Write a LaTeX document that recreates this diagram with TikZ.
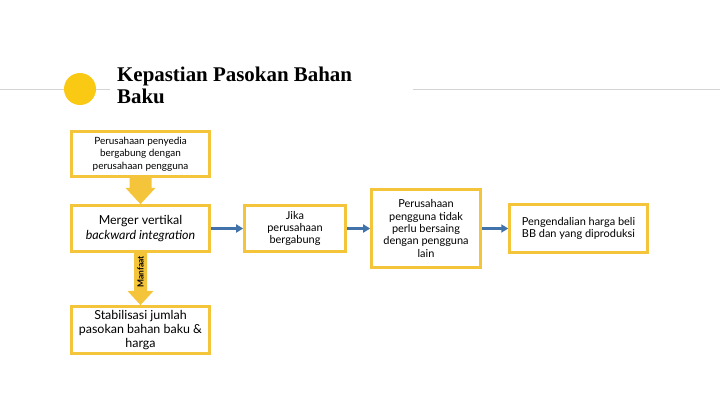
\documentclass[tikz,border=0pt]{standalone}
\usepackage{fontspec}
\setmainfont{Lato}
\newfontfamily\titlefont{Liberation Serif}
\usetikzlibrary{arrows.meta,calc}
\definecolor{boxyellow}{RGB}{244,196,58}
\definecolor{dotyellow}{RGB}{250,201,20}
\definecolor{linkblue}{RGB}{66,114,170}
\definecolor{rulegrey}{RGB}{212,212,212}
\begin{document}
\begin{tikzpicture}[x=1bp,y=-1bp,
  box/.style={draw=boxyellow,line width=3bp,fill=white,align=center,inner sep=2bp,
    font=\fontsize{11}{12.5}\selectfont},
  link/.style={draw=linkblue,line width=2.2bp,-{Triangle[length=7bp,width=8bp]}}]
\useasboundingbox (0,0) rectangle (720,405);
% header
\draw[rulegrey,line width=0.8bp] (0,89) -- (110,89);
\draw[rulegrey,line width=0.8bp] (413,89) -- (720,89);
\fill[dotyellow] (80,89) circle [radius=16];
\node[anchor=north west,align=left,inner sep=0,font=\titlefont\bfseries\fontsize{21}{21.5}\selectfont] (title) at (117,67) {Kepastian Pasokan Bahan\\Baku};
% left column
\node[box,minimum width=138,minimum height=45,font=\fontsize{10}{12.5}\selectfont] (supplier) at (140.5,154) {Perusahaan penyedia\\bergabung dengan\\perusahaan pengguna};
\node[box,minimum width=138,minimum height=46,font=\fontsize{12.5}{15}\selectfont] (merger) at (140.5,228.5) {Merger vertikal\\\textit{backward integration}};
\node[box,minimum width=138,minimum height=47,font=\fontsize{12.5}{14}\selectfont] (stable) at (140.5,330) {Stabilisasi jumlah\\pasokan bahan baku \&\\harga};
% right row
\node[box,minimum width=101,minimum height=46] (join) at (295,228.5) {Jika\\perusahaan\\bergabung};
\node[box,minimum width=109,minimum height=78] (nocomp) at (426,228.5) {Perusahaan\\pengguna tidak\\perlu bersaing\\dengan pengguna\\lain};
\node[box,minimum width=138,minimum height=48] (control) at (578.5,228.5) {Pengendalian harga beli\\BB dan yang diproduksi};
% block arrows
\fill[boxyellow] ($(supplier.south)+(-11,0)$) -- ($(supplier.south)+(11,0)$) -- ($(supplier.south)+(11,10)$) -- ($(supplier.south)+(15,10)$) -- (merger.north) -- ($(supplier.south)+(-15,10)$) -- ($(supplier.south)+(-11,10)$) -- cycle;
\fill[boxyellow] ($(merger.south)+(-6.5,0)$) -- ($(merger.south)+(6.5,0)$) -- ($(merger.south)+(6.5,38)$) -- ($(merger.south)+(13,38)$) -- (stable.north) -- ($(merger.south)+(-13,38)$) -- ($(merger.south)+(-6.5,38)$) -- cycle;
\node[rotate=90,inner sep=0,font=\bfseries\fontsize{8.5}{9}\selectfont] (benefit) at ($(merger.south)+(0,19)$) {Manfaat};
% links
\draw[link] (merger.east) -- (join.west);
\draw[link] (join.east) -- (nocomp.west);
\draw[link] (nocomp.east) -- (control.west);
\end{tikzpicture}
\end{document}
